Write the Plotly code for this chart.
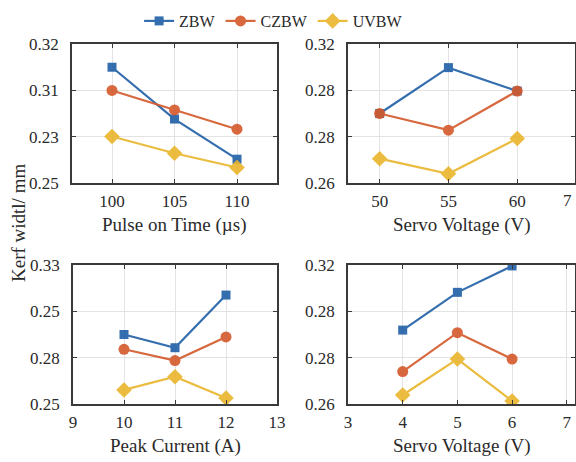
import numpy as np
import plotly.graph_objects as go

W, H = 576, 462

series = ["ZBW", "CZBW", "UVBW"]
colors = ["#1f5fa6", "#d4582a", "#e9b52b"]
symbols = ["square", "circle", "diamond"]
msizes = [9, 11, 12]

# Panel 1: Pulse on Time
p1_x = [100, 105, 110]
p1_zbw = [0.3083, 0.2822, 0.2620]
p1_czbw = [0.2966, 0.2868, 0.2771]
p1_uvbw = [0.2734, 0.2650, 0.2578]
p1_ytext = ["0.25", "0.23", "0.31", "0.32"]

# Panel 2: Servo Voltage (V) 50-60
p2_x = [50, 55, 60]
p2_zbw = [0.2900, 0.3098, 0.2997]
p2_czbw = [0.2900, 0.2828, 0.2997]
p2_uvbw = [0.2705, 0.2640, 0.2792]
p2_ytext = ["0.26", "0.28", "0.28", "0.32"]

# Panel 3: Peak Current
p3_x = [10, 11, 12]
p3_zbw = [0.2900, 0.2824, 0.3127]
p3_czbw = [0.2815, 0.2750, 0.2886]
p3_uvbw = [0.2581, 0.2657, 0.2534]
p3_ytext = ["0.25", "0.28", "0.25", "0.33"]

# Panel 4: Servo Voltage (V) 4-6
p4_x = [4, 5, 6]
p4_zbw = [0.2919, 0.3082, 0.3196]
p4_czbw = [0.2740, 0.2908, 0.2794]
p4_uvbw = [0.2639, 0.2794, 0.2613]
p4_ytext = ["0.26", "0.28", "0.28", "0.32"]

xtitles = ["Pulse on Time (µs)", "Servo Voltage (V)", "Peak Current (A)", "Servo Voltage (V)"]
ylabel = "Kerf widtl/ mm"
p2_edge_label = "7"

panels = [
    dict(x=p1_x, ys=[p1_zbw, p1_czbw, p1_uvbw], yr=[0.25, 0.32], yt=p1_ytext,
         xr=[96.8, 113.2], xt=[100, 105, 110], xtt=["100", "105", "110"],
         px=(72, 277), py=(44, 183)),
    dict(x=p2_x, ys=[p2_zbw, p2_czbw, p2_uvbw], yr=[0.26, 0.32], yt=p2_ytext,
         xr=[47.7, 64.2], xt=[50, 55, 60], xtt=["50", "55", "60"],
         px=(348, 575), py=(44, 183)),
    dict(x=p3_x, ys=[p3_zbw, p3_czbw, p3_uvbw], yr=[0.25, 0.33], yt=p3_ytext,
         xr=[9, 13], xt=[9, 10, 11, 12, 13], xtt=["9", "10", "11", "12", "13"],
         px=(73, 277), py=(265, 404)),
    dict(x=p4_x, ys=[p4_zbw, p4_czbw, p4_uvbw], yr=[0.26, 0.32], yt=p4_ytext,
         xr=[3, 7.15], xt=[3, 4, 5, 6, 7], xtt=["3", "4", "5", "6", "7"],
         px=(348, 575), py=(265, 404)),
]

FONT = "Liberation Serif"
TXT = "#2a2a2a"

fig = go.Figure()
layout = dict(
    width=W, height=H, margin=dict(l=0, r=0, t=0, b=0, autoexpand=False),
    paper_bgcolor="white", plot_bgcolor="white",
    font=dict(family=FONT, color=TXT, size=17),
    showlegend=True,
    legend=dict(orientation="h", x=0.475, xanchor="center", y=1 - 4 / H, yanchor="top",
                font=dict(family=FONT, size=16, color=TXT), itemwidth=30,
                tracegroupgap=0, bgcolor="rgba(0,0,0,0)"),
)
annotations = []
for i, p in enumerate(panels):
    k = "" if i == 0 else str(i + 1)
    xa, ya = "x" + k, "y" + k
    for j, s in enumerate(series):
        fig.add_trace(go.Scatter(
            x=p["x"], y=p["ys"][j], mode="lines+markers", name=s,
            legendgroup=s, showlegend=(i == 0),
            line=dict(color=colors[j], width=2.2),
            marker=dict(symbol=symbols[j], size=msizes[j], color=colors[j]),
            xaxis=xa, yaxis=ya, opacity=0.9))
    x0, x1 = p["px"]
    y0, y1 = p["py"]
    yvals = list(np.linspace(p["yr"][0], p["yr"][1], len(p["yt"])))
    common = dict(showline=True, linecolor="#3a3a3a", linewidth=1.5, mirror="ticks",
                  ticks="inside", ticklen=4, tickcolor="#3a3a3a", automargin=False,
                  showgrid=True, gridcolor="#e3e3e3", gridwidth=1, zeroline=False,
                  tickfont=dict(family=FONT, size=17, color=TXT))
    layout["xaxis" + k] = dict(domain=[x0 / W, x1 / W], range=p["xr"], anchor=ya,
                               tickvals=p["xt"], ticktext=p["xtt"], tickmode="array",
                               ticklabelstandoff=2, **common)
    layout["yaxis" + k] = dict(domain=[1 - y1 / H, 1 - y0 / H], range=p["yr"], anchor=xa,
                               tickvals=yvals, ticktext=p["yt"], tickmode="array",
                               ticklabelstandoff=8, **common)
    annotations.append(dict(text=xtitles[i], xref="paper", yref="paper",
                            x=((x0 + x1) / 2) / W, y=1 - (y1 + 42) / H,
                            xanchor="center", yanchor="middle", showarrow=False,
                            font=dict(family=FONT, size=19, color=TXT)))

# partially visible tick label at the right edge of the top-right panel
annotations.append(dict(text=p2_edge_label, xref="paper", yref="paper", x=574 / W, y=1 - 200 / H,
                        xanchor="right", yanchor="middle", showarrow=False,
                        font=dict(family=FONT, size=17, color=TXT)))
annotations.append(dict(text=ylabel, xref="paper", yref="paper", x=19 / W, y=1 - 223 / H,
                        xanchor="center", yanchor="middle", textangle=-90, showarrow=False,
                        font=dict(family=FONT, size=19, color=TXT)))
layout["annotations"] = annotations
fig.update_layout(**layout)
fig.write_html("out.html")
